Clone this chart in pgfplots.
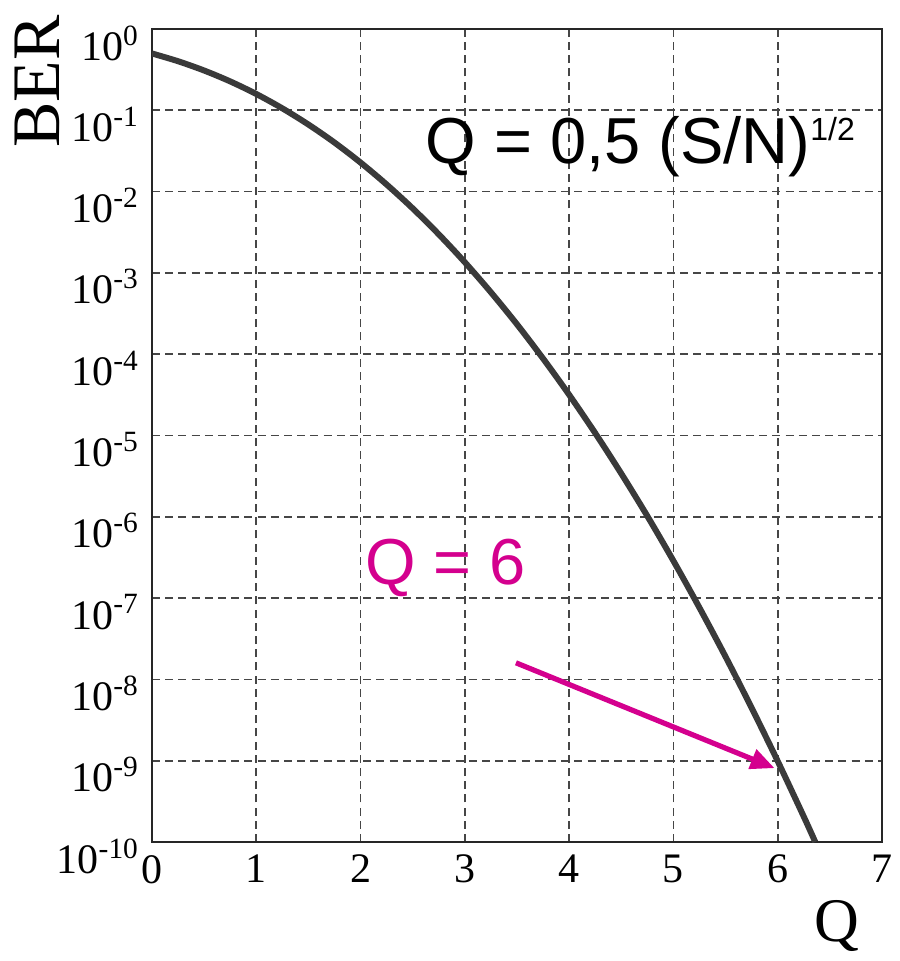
\documentclass[border=0pt]{standalone}
\usepackage{fontspec}
\setmainfont{Liberation Serif}
\newfontfamily\annotfont{Liberation Sans}
\usepackage{pgfplots}
\pgfplotsset{compat=1.18}
\usetikzlibrary{arrows.meta}

\definecolor{curvegray}{RGB}{58,58,58}
\definecolor{gridgray}{RGB}{70,70,70}
\definecolor{annotmag}{RGB}{212,0,142}

\begin{document}
\begin{tikzpicture}
  \begin{semilogyaxis}[
      name=ax, at={(0,0)}, anchor=south west,
      scale only axis,
      width=365pt, height=406.5pt,
      xmin=0, xmax=7,
      ymin=1e-10, ymax=1,
      xtick={0,1,2,3,4,5,6,7},
      ytick={1e-10,1e-9,1e-8,1e-7,1e-6,1e-5,1e-4,1e-3,1e-2,1e-1,1},
      yticklabels={10\textsuperscript{-10},10\textsuperscript{-9},10\textsuperscript{-8},
        10\textsuperscript{-7},10\textsuperscript{-6},10\textsuperscript{-5},
        10\textsuperscript{-4},10\textsuperscript{-3},10\textsuperscript{-2},
        10\textsuperscript{-1},10\textsuperscript{0}},
      xticklabel style={font=\fontsize{21}{21}\selectfont, yshift=-3pt},
      yticklabel style={font=\fontsize{21}{21}\selectfont, anchor=east, xshift=-3pt, yshift=-7pt},
      /pgf/number format/assume math mode=true,
      major tick length=0pt,
      minor tick length=0pt,
      grid=major,
      major grid style={gridgray, line width=0.9pt, dash pattern=on 4pt off 2.6pt},
      axis line style={black!85, line width=1.2pt},
    ]
    % BER versus Q
    \addplot[smooth, curvegray, line width=3pt] coordinates {
      (0,0.5)(0.25,0.4013)(0.5,0.3085)(0.75,0.2266)(1,0.1587)(1.25,0.1056)
      (1.5,0.0668)(1.75,0.0401)(2,0.02275)(2.25,0.01222)(2.5,0.00621)
      (2.75,0.00298)(3,1.35e-3)(3.25,5.77e-4)(3.5,2.33e-4)(3.75,8.84e-5)
      (4,3.17e-5)(4.25,1.07e-5)(4.5,3.40e-6)(4.75,1.02e-6)(5,2.87e-7)
      (5.25,7.6e-8)(5.5,1.9e-8)(5.75,4.46e-9)(6,9.87e-10)(6.25,2.05e-10)(6.36,1.0e-10)
    };

    % annotations
    \node[anchor=base west, inner sep=0, font=\annotfont\fontsize{32.5}{32.5}\selectfont]
      at (axis cs:2.62,0.0224) {Q = 0,5 (S/N)\raisebox{11.5pt}{\fontsize{16}{16}\selectfont 1/2}};
    \node[anchor=base west, inner sep=0, annotmag, font=\annotfont\fontsize{32.5}{32.5}\selectfont]
      at (axis cs:2.04,1.45e-7) {Q = 6};
    \draw[annotmag, line width=2.6pt, -{Triangle[length=12pt,width=10pt]}]
      (axis cs:3.49,1.6e-8) -- (axis cs:5.97,8.1e-10);
  \end{semilogyaxis}

  % axis titles
  \node[rotate=90, anchor=east, inner sep=0, font=\fontsize{34}{34}\selectfont]
    at ([xshift=-57.5pt,yshift=7pt]ax.north west) {BER};
  \node[anchor=north, inner sep=0, font=\fontsize{31}{31}\selectfont]
    at ([xshift=-22.5pt,yshift=-29pt]ax.south east) {Q};

  \pgfresetboundingbox
  \path[use as bounding box] ([xshift=-76pt,yshift=-59.5pt]ax.south west) rectangle ++(449.5pt,480.5pt);
\end{tikzpicture}
\end{document}
